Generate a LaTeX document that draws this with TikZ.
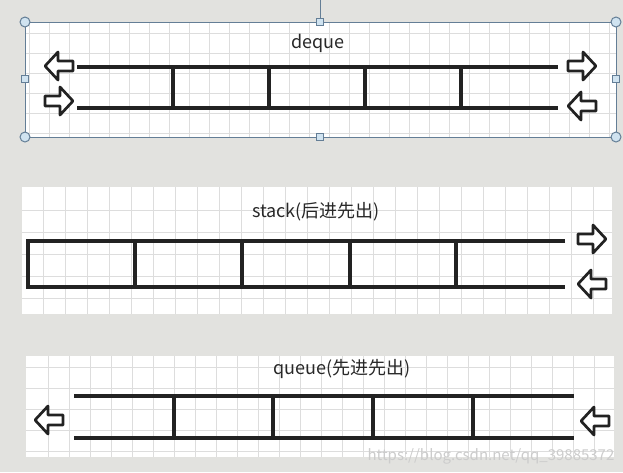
\documentclass[tikz,border=0pt]{standalone}
\usepackage{fontspec}
\setmainfont{Noto Sans CJK SC}
\definecolor{bg}{RGB}{226,226,223}
\definecolor{gridc}{RGB}{221,221,221}
\definecolor{ink}{RGB}{34,34,34}
\definecolor{txt}{RGB}{40,40,40}
\definecolor{selc}{RGB}{100,126,150}
\definecolor{handlef}{RGB}{208,227,240}
\tikzset{
  panel/.style={fill=white,draw=none},
  gridl/.style={draw=gridc,line width=0.9pt},
  cellline/.style={draw=ink,line width=3.2pt},
  arrowline/.style={draw=ink,fill=white,line width=2.7pt,line join=round},
  blockarrow/.pic={\path[arrowline] (14,0) -- (1,14) -- (1,5) -- (-14,5) -- (-14,-5) -- (1,-5) -- (1,-14) -- cycle;},
  lbl/.style={text=txt,font=\fontsize{18}{20}\selectfont,inner sep=0pt},
  selline/.style={draw=selc,line width=1pt},
  hcirc/.style={circle,draw=selc,fill=handlef,line width=1pt,minimum size=10pt,inner sep=0pt},
  hsq/.style={rectangle,draw=selc,fill=handlef,line width=0.8pt,minimum size=7pt,inner sep=0pt},
}
\begin{document}
\begin{tikzpicture}[x=1pt,y=-1pt]
\useasboundingbox (0,0) rectangle (623,472);
\fill[bg] (0,0) rectangle (623,472);

% ---------- deque panel ----------
\fill[white] (25,22) rectangle (616,137);
\begin{scope}
\clip (25,22) rectangle (616,137);
\foreach \x in {29,49,...,609} \draw[gridl] (\x,22) -- (\x,137);
\foreach \y in {33,53,...,133} \draw[gridl] (25,\y) -- (616,\y);
\end{scope}
\node[lbl] (dlabel) at (318,43) {deque};
\coordinate (dt0) at (77,67);  \coordinate (dt1) at (558,67);
\coordinate (db0) at (77,108); \coordinate (db1) at (558,108);
\draw[cellline] (dt0) -- (dt1);
\draw[cellline] (db0) -- (db1);
\foreach \x in {173,269,365,461} \draw[cellline] (\x,67) -- (\x,108);
\pic[rotate=180] (dla) at (59,66) {blockarrow};
\pic (dra) at (59,101) {blockarrow};
\pic (dlb) at (582,66) {blockarrow};
\pic[rotate=180] (drb) at (582,106) {blockarrow};
% selection frame
\draw[selline] (25,22) rectangle (616,137);
\coordinate (ctop) at (320,0);
\node[hsq] (hs1) at (320,22) {};
\draw[selline] (ctop) -- (hs1);
\node[hsq] (hs2) at (320,137) {};
\node[hsq] (hs3) at (25,79) {};
\node[hsq] (hs4) at (616,79) {};
\node[hcirc] (hc1) at (25,22) {};
\node[hcirc] (hc2) at (616,22) {};
\node[hcirc] (hc3) at (25,137) {};
\node[hcirc] (hc4) at (616,137) {};

% ---------- stack panel ----------
\fill[white] (22,187) rectangle (612,314);
\begin{scope}
\clip (22,187) rectangle (612,314);
\foreach \x in {43,65,...,611} \draw[gridl] (\x,187) -- (\x,314);
\foreach \y in {210,232,...,310} \draw[gridl] (22,\y) -- (612,\y);
\end{scope}
\node[lbl] (slabel) at (316,212) {stack(后进先出)};
\coordinate (st0) at (28,241);  \coordinate (st1) at (565,241);
\coordinate (sb0) at (28,287);  \coordinate (sb1) at (565,287);
\draw[cellline] (st1) -- (st0) -- (sb0) -- (sb1);
\foreach \x in {135,242,350,456} \draw[cellline] (\x,241) -- (\x,287);
\pic (sra) at (592,239) {blockarrow};
\pic[rotate=180] (sla) at (592,284) {blockarrow};

% ---------- queue panel ----------
\fill[white] (26,356) rectangle (614,457);
\begin{scope}
\clip (26,356) rectangle (614,457);
\foreach \x in {48,69,...,612} \draw[gridl] (\x,356) -- (\x,457);
\foreach \y in {367,388,...,456} \draw[gridl] (26,\y) -- (614,\y);
\end{scope}
\node[lbl] (qlabel) at (342,369) {queue(先进先出)};
\coordinate (qt0) at (74,396);  \coordinate (qt1) at (574,396);
\coordinate (qb0) at (74,438);  \coordinate (qb1) at (574,438);
\draw[cellline] (qt0) -- (qt1);
\draw[cellline] (qb0) -- (qb1);
\foreach \x in {174,273,373,473} \draw[cellline] (\x,396) -- (\x,438);
\pic[rotate=180] (qla) at (49,420) {blockarrow};
\pic[rotate=180] (qlb) at (595,421) {blockarrow};

% watermark
\node[text=black!20,font=\fontsize{15}{16}\selectfont,inner sep=0pt] (wm) at (491,456) {https://blog.csdn.net/qq\_39885372};
\end{tikzpicture}
\end{document}
